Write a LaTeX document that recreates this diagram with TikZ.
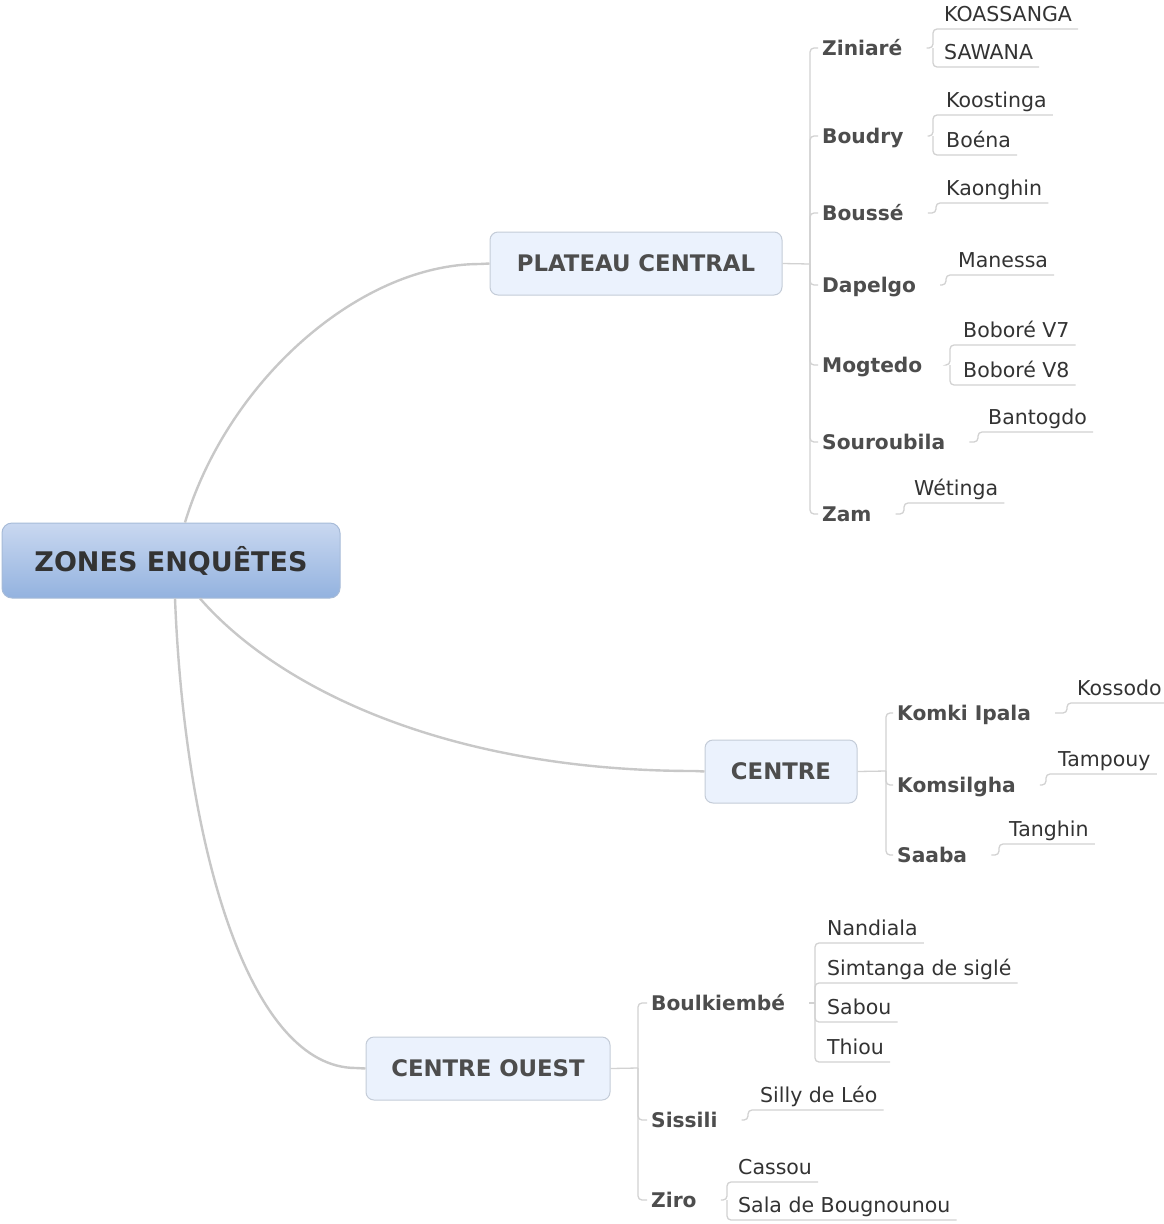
\documentclass[tikz,border=0pt]{standalone}
\usepackage{fontspec}
\setmainfont{DejaVu Sans}
\definecolor{linec}{RGB}{200,200,200}
\definecolor{tickc}{RGB}{210,210,210}
\definecolor{boxfill}{RGB}{235,242,253}
\definecolor{boxborder}{RGB}{196,204,216}
\definecolor{titletop}{RGB}{201,216,240}
\definecolor{titlebot}{RGB}{147,178,223}
\definecolor{titleborder}{RGB}{167,187,216}
\definecolor{titletext}{RGB}{51,51,51}
\definecolor{lvltext}{RGB}{77,77,77}
\definecolor{leaftext}{RGB}{51,51,51}
\tikzset{
  bigconn/.style={draw=linec, line width=2.4pt},
  conn/.style={draw=tickc, line width=1.3pt, rounded corners=4pt},
  lvlone/.style={draw=boxborder, fill=boxfill, line width=1pt, rounded corners=8pt,
    minimum width=#1, minimum height=63pt, inner sep=0pt,
    font=\bfseries\fontsize{22.8}{26}\selectfont, text=lvltext},
  lvltwo/.style={anchor=west, inner xsep=4pt, inner ysep=0pt, text height=14.6pt, text depth=0pt,
    font=\bfseries\fontsize{20.2}{24}\selectfont, text=lvltext},
  leaf/.style={anchor=south west, inner xsep=0pt, inner ysep=7pt, text depth=0pt,
    font=\fontsize{20.5}{24}\selectfont, text=leaftext},
}
\begin{document}
\begin{tikzpicture}[x=1pt,y=-1pt]
\fill[white] (0,0) rectangle (1163,1224);
\useasboundingbox (0,0) rectangle (1163,1224);

% root and level one
\node[draw=titleborder, line width=1pt, top color=titletop, bottom color=titlebot,
      rounded corners=10pt, minimum width=338pt, minimum height=75pt, inner sep=0pt,
      font=\bfseries\fontsize{27}{32}\selectfont, text=titletext] (title) at (171,560.5) {ZONES ENQUÊTES};
\node[lvlone=292pt] (plat) at (636,263.5) {PLATEAU CENTRAL};
\node[lvlone=152pt] (cen) at (781,771.5) {CENTRE};
\node[lvlone=244pt] (co) at (488,1068.5) {CENTRE OUEST};

\draw[bigconn] ([xshift=14pt]title.north) .. controls (228,380) and (360,264) .. (480,264) -- (plat.west);
\draw[bigconn] ([xshift=29pt]title.south) .. controls (280,690) and (450,771) .. (695,771) -- (cen.west);
\draw[bigconn] ([xshift=4pt]title.south) .. controls (185,850) and (250,1068) .. (356,1068) -- (co.west);

% ---------- PLATEAU CENTRAL ----------
\coordinate (j1) at (810,264);
\draw[conn] (plat.east) -- (j1);
\node[lvltwo] (zin) at (818,48) {Ziniaré};
\node[lvltwo] (bou) at (818,136) {Boudry};
\node[lvltwo] (bos) at (818,213) {Boussé};
\node[lvltwo] (dap) at (818,285) {Dapelgo};
\node[lvltwo] (mog) at (818,365) {Mogtedo};
\node[lvltwo] (sou) at (818,442) {Souroubila};
\node[lvltwo] (zam) at (818,514) {Zam};
\foreach \c in {zin,bou,bos,dap,mog,sou,zam}{\draw[conn] (j1) |- (\c.west);}

\node[leaf] (koa) at (944,29) {KOASSANGA};
\node[leaf] (saw) at (944,67) {SAWANA};
\draw[conn] ([xshift=20pt]zin.east) -- (933,48) |- (koa.south west) -- ([xshift=6pt]koa.south east);
\draw[conn] (933,48) |- (saw.south west) -- ([xshift=6pt]saw.south east);

\node[leaf] (koo) at (946,115) {Koostinga};
\node[leaf] (boe) at (946,155) {Boéna};
\draw[conn] ([xshift=20pt]bou.east) -- (933,136) |- (koo.south west) -- ([xshift=6pt]koo.south east);
\draw[conn] (933,136) |- (boe.south west) -- ([xshift=6pt]boe.south east);

\node[leaf] (kao) at (946,203) {Kaonghin};
\draw[conn] ([xshift=20pt]bos.east) -- (936,213) |- (kao.south west) -- ([xshift=6pt]kao.south east);

\node[leaf] (man) at (958,275) {Manessa};
\draw[conn] ([xshift=20pt]dap.east) -- (946,285) |- (man.south west) -- ([xshift=6pt]man.south east);

\node[leaf] (bv7) at (963,345) {Boboré V7};
\node[leaf] (bv8) at (963,385) {Boboré V8};
\draw[conn] ([xshift=20pt]mog.east) -- (950,365) |- (bv7.south west) -- ([xshift=6pt]bv7.south east);
\draw[conn] (950,365) |- (bv8.south west) -- ([xshift=6pt]bv8.south east);

\node[leaf] (ban) at (988,432) {Bantogdo};
\draw[conn] ([xshift=20pt]sou.east) -- (978,442) |- (ban.south west) -- ([xshift=6pt]ban.south east);

\node[leaf] (wet) at (914,503) {Wétinga};
\draw[conn] ([xshift=20pt]zam.east) -- (904,514) |- (wet.south west) -- ([xshift=6pt]wet.south east);

% ---------- CENTRE ----------
\coordinate (j2) at (886,771);
\draw[conn] (cen.east) -- (j2);
\node[lvltwo] (kom) at (893,713) {Komki Ipala};
\node[lvltwo] (kms) at (893,785) {Komsilgha};
\node[lvltwo] (saa) at (893,855) {Saaba};
\foreach \c in {kom,kms,saa}{\draw[conn] (j2) |- (\c.west);}

\node[leaf] (kos) at (1077,703) {Kossodo};
\draw[conn] ([xshift=20pt]kom.east) -- (1067,713) |- (kos.south west) -- ([xshift=6pt]kos.south east);
\node[leaf] (tam) at (1058,774) {Tampouy};
\draw[conn] ([xshift=20pt]kms.east) -- (1046,785) |- (tam.south west) -- ([xshift=6pt]tam.south east);
\node[leaf] (tan) at (1009,844) {Tanghin};
\draw[conn] ([xshift=20pt]saa.east) -- (999,855) |- (tan.south west) -- ([xshift=6pt]tan.south east);

% ---------- CENTRE OUEST ----------
\coordinate (j3) at (638,1068);
\draw[conn] (co.east) -- (j3);
\node[lvltwo] (boul) at (647,1003) {Boulkiembé};
\node[lvltwo] (sis) at (647,1120) {Sissili};
\node[lvltwo] (zir) at (647,1200) {Ziro};
\foreach \c in {boul,sis,zir}{\draw[conn] (j3) |- (\c.west);}

\node[leaf] (nan) at (827,943) {Nandiala};
\node[leaf] (sim) at (827,983) {Simtanga de siglé};
\node[leaf] (sab) at (827,1022) {Sabou};
\node[leaf] (thi) at (827,1062) {Thiou};
\draw[conn] ([xshift=20pt]boul.east) -- (815,1003);
\foreach \c in {nan,sim,sab,thi}{\draw[conn] (815,1003) |- (\c.south west) -- ([xshift=6pt]\c.south east);}

\node[leaf] (sil) at (760,1110) {Silly de Léo};
\draw[conn] ([xshift=20pt]sis.east) -- (748,1120) |- (sil.south west) -- ([xshift=6pt]sil.south east);

\node[leaf] (cas) at (738,1182) {Cassou};
\node[leaf] (sal) at (738,1220) {Sala de Bougnounou};
\draw[conn] ([xshift=20pt]zir.east) -- (727,1200) |- (cas.south west) -- ([xshift=6pt]cas.south east);
\draw[conn] (727,1200) |- (sal.south west) -- ([xshift=6pt]sal.south east);
\end{tikzpicture}
\end{document}
